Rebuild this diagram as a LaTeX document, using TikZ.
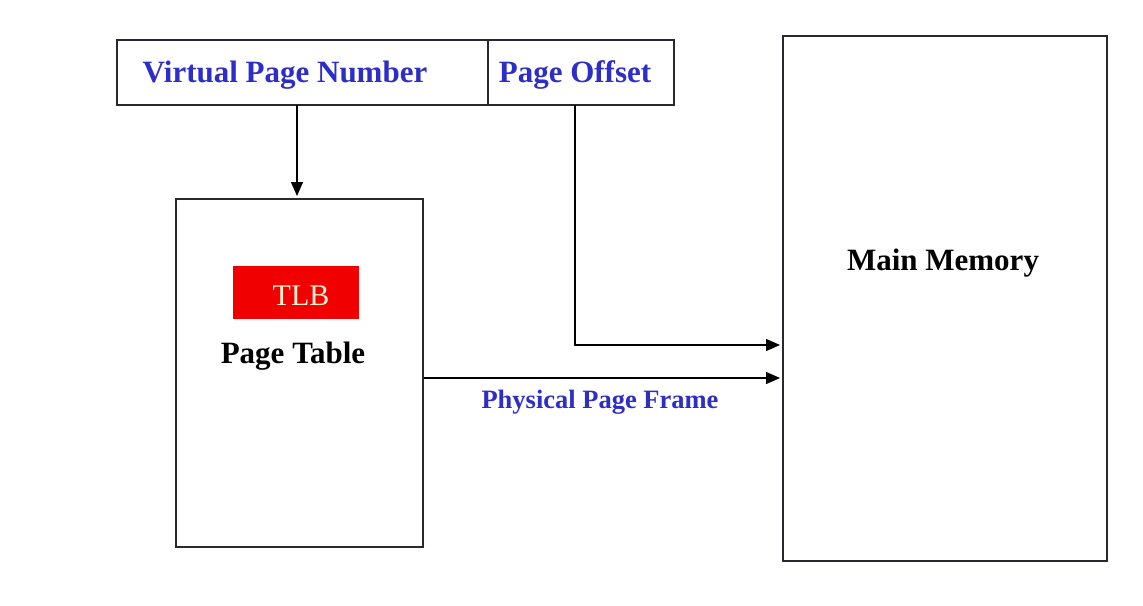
\documentclass[tikz,border=0pt]{standalone}
\usepackage{fontspec}
\setmainfont{Liberation Serif}
\usetikzlibrary{arrows.meta}
\definecolor{lblblue}{RGB}{45,45,200}
\definecolor{tlbred}{RGB}{240,0,0}
\definecolor{tlbtext}{RGB}{255,242,210}
\definecolor{boxline}{RGB}{40,40,50}
\begin{document}
\begin{tikzpicture}[x=1pt,y=-1pt,
  box/.style={draw=boxline,line width=1.5pt},
  conn/.style={draw=black,line width=1.3pt,-{Triangle[length=14pt,width=12pt]},shorten >=2pt},
  bluelbl/.style={text=lblblue,font=\fontsize{31}{37}\selectfont\bfseries,anchor=base,inner sep=0pt},
  blacklbl/.style={text=black,font=\fontsize{31}{37}\selectfont\bfseries,anchor=base,inner sep=0pt}]
\useasboundingbox[fill=white] (0,0) rectangle (1143,605);
% boxes
\draw[box] (117,40) rectangle (674,105);
\draw[box] (488,40) -- (488,105);
\coordinate (vpnbot) at (297,105);
\coordinate (pobot) at (575,105);
\node[box,minimum width=247pt,minimum height=348pt,anchor=north west,inner sep=0pt] (pt) at (175,198) {};
\node[box,minimum width=324pt,minimum height=525pt,anchor=north west,inner sep=0pt] (mm) at (782,35) {};
\node[fill=tlbred,minimum width=126pt,minimum height=53pt,anchor=north west,inner sep=0pt] (tlbbox) at (233,266) {};
% labels
\node[bluelbl] (vpn) at (285,82) {Virtual Page Number};
\node[bluelbl] (po) at (575,82) {Page Offset};
\node[anchor=base,inner sep=0pt,text=tlbtext,font=\fontsize{30}{36}\selectfont] (tlb) at (301,305) {TLB};
\node[blacklbl] (ptl) at (293,363) {Page Table};
\node[blacklbl] (mml) at (943,270) {Main Memory};
\node[anchor=base,inner sep=0pt,text=lblblue,font=\fontsize{26.5}{32}\selectfont\bfseries] (ppf) at (600,408) {Physical Page Frame};
% connectors
\draw[conn] (vpnbot) -- (pt.north -| vpnbot);
\draw[conn] (pobot) |- (mm.west |- 0,345);
\draw[conn] (pt.east |- 0,378) -- (mm.west |- 0,378);
\end{tikzpicture}
\end{document}
